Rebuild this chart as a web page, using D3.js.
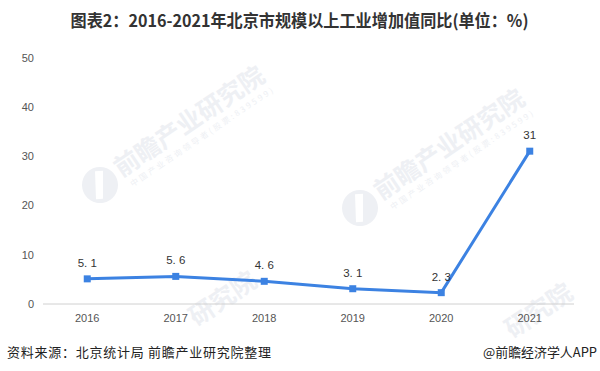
<!DOCTYPE html>
<html><head><meta charset="utf-8">
<script src="https://cdn.jsdelivr.net/npm/d3@7"></script>
<style>body{margin:0;background:#fff}svg{display:block}</style>
</head><body>
<svg id="c" width="600" height="371"></svg>
<script>
const years = ["2016","2017","2018","2019","2020","2021"];
const values = [5.1, 5.6, 4.6, 3.1, 2.3, 31];
const valueLabels = ["5. 1","5. 6","4. 6","3. 1","2. 3","31"];
const yTicks = [0,10,20,30,40,50];
const title = "图表2：2016-2021年北京市规模以上工业增加值同比(单位：%)";
const source = "资料来源：北京统计局 前瞻产业研究院整理";
const brand = "@前瞻经济学人APP";
const wmText = "前瞻产业研究院";
const wmSub = "中国产业咨询领导者(股票:839599)";

(function(){
const svg = d3.select("#c");
const font = "'Noto Sans CJK SC','Noto Sans',sans-serif";
const mLeft = 43, mRight = 574, mTop = 57.5, mBottom = 304;
const x = d3.scalePoint().domain(years).range([mLeft, mRight]).padding(0.5);
const y = d3.scaleLinear().domain([0,50]).range([mBottom, mTop]);

function watermark(wx, wy, full){
  const g = svg.append("g").attr("transform",`translate(${wx},${wy}) rotate(-34)`);
  if(full){
    g.append("circle").attr("cx",0).attr("cy",0).attr("r",18).attr("fill","#eef0f4");
    g.append("path").attr("d","M-4,-14 L4,-14 L2,14 L-5,14 Z").attr("fill","#fff").attr("transform","rotate(30)");
    g.append("text").attr("x",22).attr("y",6).attr("font-family",font).attr("font-size",25).attr("font-weight","bold")
      .attr("fill","#eef0f4").attr("textLength",175).attr("lengthAdjust","spacingAndGlyphs").text(wmText);
    g.append("text").attr("x",26).attr("y",20).attr("font-family",font).attr("font-size",8)
      .attr("fill","#eef0f4").attr("textLength",170).attr("lengthAdjust","spacing").text(wmSub);
  } else {
    g.append("text").attr("x",122).attr("y",6).attr("font-family",font).attr("font-size",25).attr("font-weight","bold")
      .attr("fill","#eef0f4").attr("textLength",75).attr("lengthAdjust","spacingAndGlyphs").text(wmText.slice(4));
  }
}
watermark(100,185,true);
watermark(360,208,true);
watermark(92,390,false);
watermark(408,402,false);

svg.append("text").attr("x",70.5).attr("y",27).attr("font-family",font).attr("font-size",17).attr("font-weight","bold")
  .attr("fill","#333").attr("textLength",458).attr("lengthAdjust","spacingAndGlyphs").text(title);

svg.append("g").selectAll("text").data(yTicks).join("text")
  .attr("x",34).attr("y",d=>y(d)+4).attr("text-anchor","end")
  .attr("font-family","Arial,'Liberation Sans',sans-serif").attr("font-size",11).attr("fill","#555").text(d=>d);

svg.append("line").attr("x1",mLeft).attr("x2",mRight).attr("y1",mBottom).attr("y2",mBottom).attr("stroke","#d0d0d0").attr("stroke-width",1);

svg.append("g").selectAll("text").data(years).join("text")
  .attr("x",d=>x(d)).attr("y",mBottom+18).attr("text-anchor","middle")
  .attr("font-family","Arial,'Liberation Sans',sans-serif").attr("font-size",11).attr("fill","#555").text(d=>d);

const color = "#3c82e2";
const line = d3.line().x((d,i)=>x(years[i])).y(d=>y(d));
svg.append("path").datum(values).attr("d",line).attr("fill","none").attr("stroke",color).attr("stroke-width",3);
svg.append("g").selectAll("rect").data(values).join("rect")
  .attr("x",(d,i)=>x(years[i])-3.5).attr("y",d=>y(d)-3.5).attr("width",7).attr("height",7).attr("fill",color);
svg.append("g").selectAll("text").data(values).join("text")
  .attr("x",(d,i)=>x(years[i])).attr("y",d=>y(d)-12).attr("text-anchor","middle")
  .attr("font-family","Arial,'Liberation Sans',sans-serif").attr("font-size",11.5).attr("fill","#333").text((d,i)=>valueLabels[i]);

svg.append("text").attr("x",7).attr("y",357).attr("font-family",font).attr("font-size",13).attr("fill","#222")
  .attr("textLength",264).attr("lengthAdjust","spacing").text(source);
svg.append("text").attr("x",483).attr("y",357).attr("font-family",font).attr("font-size",13).attr("fill","#222")
  .attr("textLength",114).attr("lengthAdjust","spacingAndGlyphs").text(brand);
})();
</script>
</body></html>
